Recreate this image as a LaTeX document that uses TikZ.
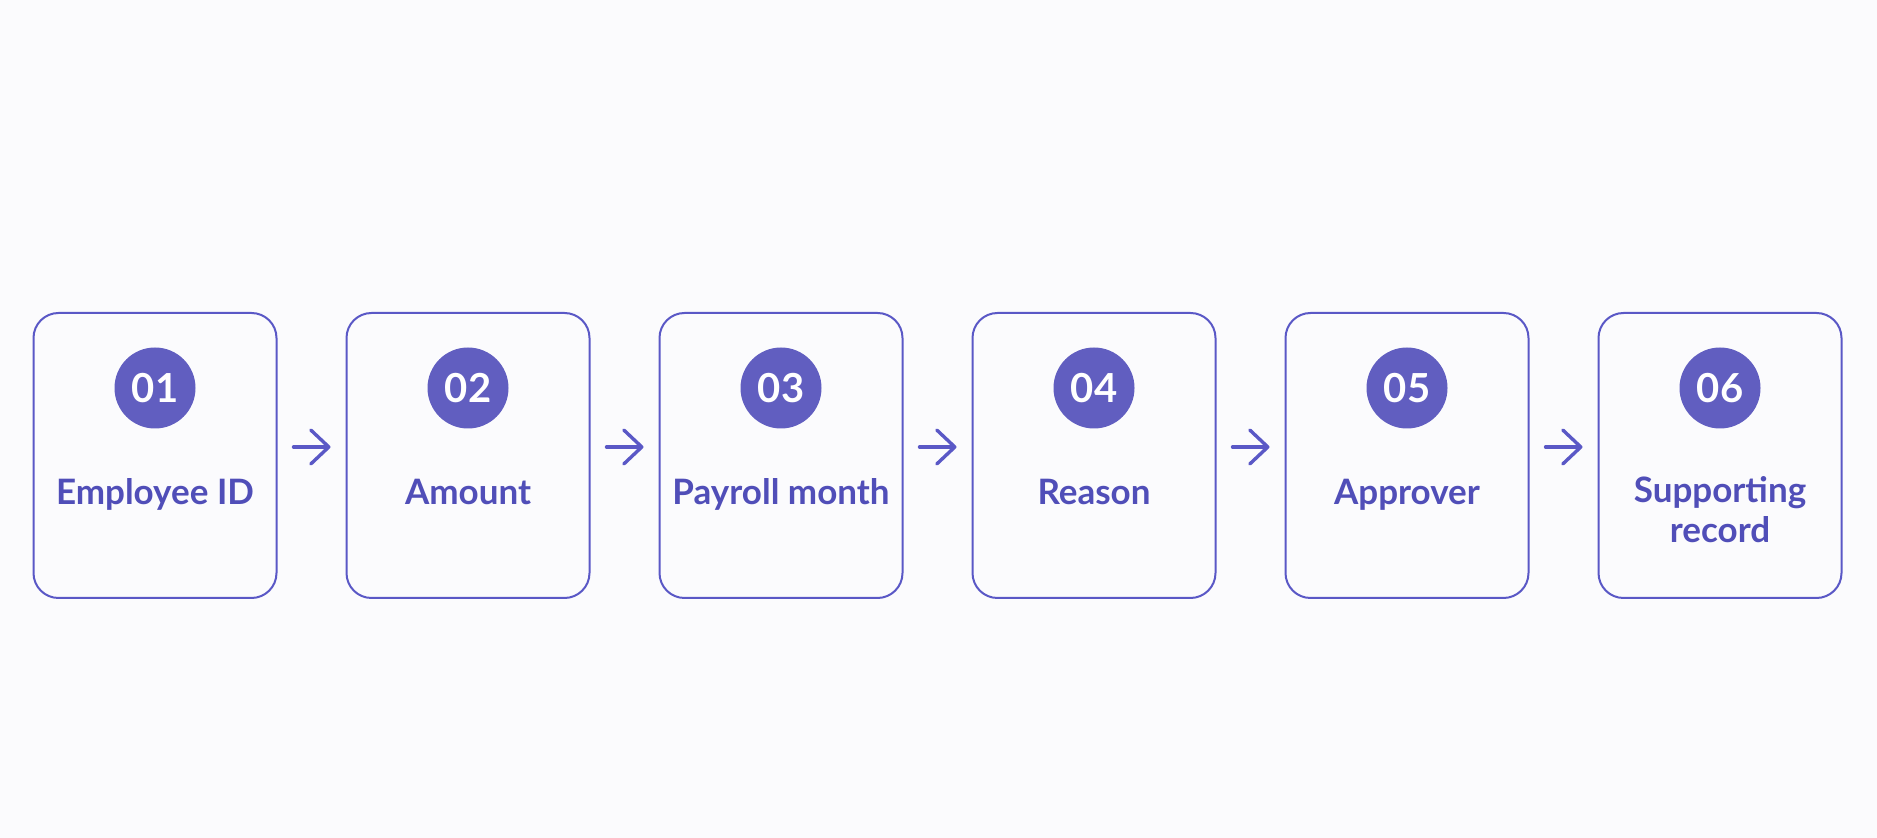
\documentclass[tikz,border=0pt]{standalone}
\usepackage{fontspec}
\setmainfont{Lato}
\usetikzlibrary{arrows.meta}
\definecolor{cardline}{RGB}{90,88,198}
\definecolor{badgefill}{RGB}{97,94,192}
\definecolor{labeltext}{RGB}{80,78,184}
\definecolor{pagebg}{RGB}{251,251,253}
\begin{document}
\begin{tikzpicture}[x=1pt,y=1pt,
		card/.style={draw=cardline,line width=2pt,rounded corners=25pt,minimum width=243pt,minimum height=285pt,inner sep=0pt},
		badge/.style={circle,fill=badgefill,text=white,minimum size=81pt,inner sep=0pt,font=\fontsize{40}{40}\selectfont\bfseries},
		field/.style={text=labeltext,align=center,anchor=north,inner sep=0pt,font=\fontsize{35}{40}\selectfont\bfseries,execute at begin node=\strut},
		link/.style={draw=cardline,line width=3.4pt,line cap=round,-{Straight Barb[length=18pt,width=34pt,round]}}]
		\fill[pagebg] (0,0) rectangle (1877,838);
		% one card per field
		\foreach \i/\name in {1/Employee ID,2/Amount,3/Payroll month,4/Reason,5/Approver,6/{Supporting\\record}}{
			\node[card] (c\i) at (155+313*\i-313,382.5){};
			\node[badge] (n\i) at (155+313*\i-313,450){0\i};
			\node[field] (f\i) at (155+313*\i-313,361.5){\name};
			}
		% arrows between cards
		\foreach \i [evaluate=\i as \j using int(\i+1)] in {1,...,5}{
			\draw[link] ([shift={(16,8.5)}]c\i.east)--([shift={(-15,8.5)}]c\j.west);
			}
		\end{tikzpicture}
\end{document}
